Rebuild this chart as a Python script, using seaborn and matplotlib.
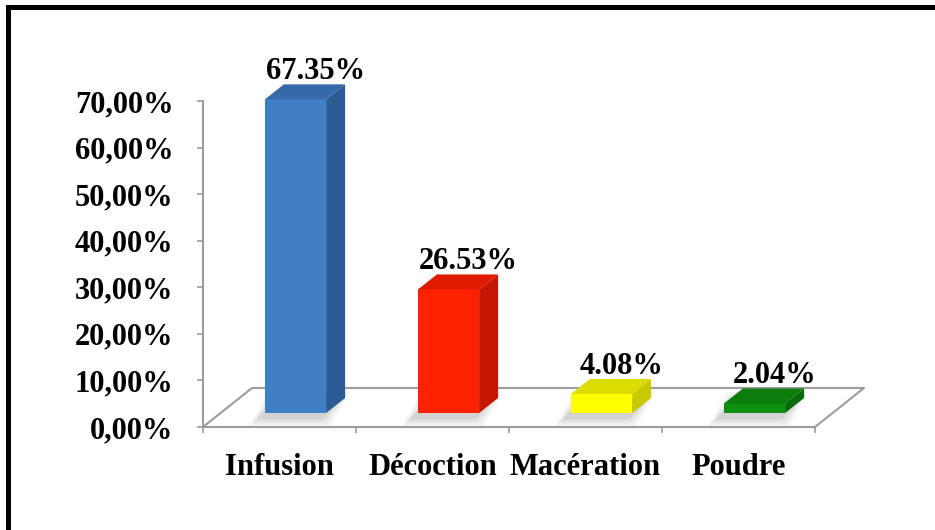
import numpy as np
import pandas as pd
import matplotlib
matplotlib.use("Agg")
import matplotlib.pyplot as plt
import matplotlib.transforms as mtransforms
from matplotlib.patches import Polygon, Rectangle
from matplotlib.lines import Line2D
import seaborn as sns

# Data
categories = ["Infusion", "Décoction", "Macération", "Poudre"]
values = [67.35, 26.53, 4.08, 2.04]
value_labels = ["67.35%", "26.53%", "4.08%", "2.04%"]
y_ticks = [0, 10, 20, 30, 40, 50, 60, 70]
y_tick_labels = ["0,00%", "10,00%", "20,00%", "30,00%",
                 "40,00%", "50,00%", "60,00%", "70,00%"]

# Face colours for the pseudo-3D bars
front_colors = ["#3f7fc6", "#ff2200", "#ffff00", "#0f8f0f"]
side_colors = ["#2b5c96", "#c41600", "#c9c900", "#0a6a0a"]
top_colors = ["#3569a8", "#e01c00", "#dcdc00", "#0c7c0c"]
axis_gray = "#9c9c9c"

sns.set_theme(style="white")
plt.rcParams["font.family"] = ["Liberation Serif", "DejaVu Serif"]
plt.rcParams["font.weight"] = "bold"

W, H = 935, 530
fig = plt.figure(figsize=(W / 100, H / 100), dpi=100)
ax = fig.add_axes([203 / W, (H - 427) / H, 612 / W, 326 / H])

df = pd.DataFrame({"Préparation": categories, "Pourcentage": values})
sns.barplot(data=df, x="Préparation", y="Pourcentage", hue="Préparation",
            palette=front_colors, width=0.4, saturation=1, legend=False,
            linewidth=0, ax=ax, zorder=4)

ax.set_xlim(-0.5, 3.5)
ax.set_ylim(0, 70)

# pixel size of one data unit
p0 = ax.transData.transform((0, 0))
p1 = ax.transData.transform((1, 1))
ppx, ppy = p1 - p0

# bars sit mid-depth on the floor: shift front faces back/up
bar_shift = mtransforms.offset_copy(ax.transData, fig=fig, x=16, y=14, units="dots")
bar_dx, bar_dy = 19 / ppx, 15 / ppy          # bar depth
floor_dx, floor_dy = 49 / ppx, 39 / ppy      # floor depth

# floor outline (left, back, right edges)
fx = [-0.5, -0.5 + floor_dx, 3.5 + floor_dx, 3.5]
fy = [0, floor_dy, floor_dy, 0]
ax.add_line(Line2D(fx, fy, color=axis_gray, lw=1.5, clip_on=False, zorder=1))

bars = sorted(ax.patches, key=lambda p: p.get_x())
for i, p in enumerate(bars):
    x0, w, h = p.get_x(), p.get_width(), p.get_height()
    p.set_transform(bar_shift)
    p.set_clip_on(False)
    # soft shadow under the bar footprint
    for k, a in enumerate([0.05, 0.06, 0.08, 0.1]):
        grow = (4 - k) * 2.5
        gx, gy = grow / ppx, grow / ppy
        sx, sy = -6 / ppx, -4 / ppy
        shadow = Polygon([(x0 - gx + sx, -gy + sy), (x0 + w + gx + sx, -gy + sy),
                          (x0 + w + bar_dx + gx + sx, bar_dy + gy + sy),
                          (x0 + bar_dx - gx + sx, bar_dy + gy + sy)],
                         closed=True, facecolor="#606060", edgecolor="none",
                         alpha=a, transform=bar_shift, clip_on=False, zorder=2)
        ax.add_patch(shadow)
    side = Polygon([(x0 + w, 0), (x0 + w, h), (x0 + w + bar_dx, h + bar_dy),
                    (x0 + w + bar_dx, bar_dy)], closed=True,
                   facecolor=side_colors[i], edgecolor="none",
                   transform=bar_shift, clip_on=False, zorder=3)
    top = Polygon([(x0, h), (x0 + w, h), (x0 + w + bar_dx, h + bar_dy),
                   (x0 + bar_dx, h + bar_dy)], closed=True,
                  facecolor=top_colors[i], edgecolor="none",
                  transform=bar_shift, clip_on=False, zorder=5)
    ax.add_patch(side)
    ax.add_patch(top)
    ax.annotate(value_labels[i], xy=(x0 + w / 2, h), xycoords="data",
                xytext=(36, 34), textcoords="offset pixels",
                ha="center", va="baseline", fontsize=22, fontweight="bold",
                color="black", annotation_clip=False, zorder=6)

# axes styling
for s in ["top", "right"]:
    ax.spines[s].set_visible(False)
for s in ["left", "bottom"]:
    ax.spines[s].set_color(axis_gray)
    ax.spines[s].set_linewidth(1.5)

ax.set_yticks(y_ticks)
ax.set_yticklabels(y_tick_labels)
ax.set_xticks(range(len(categories)))
ax.set_xticklabels(categories)
ax.set_xticks([-0.5, 0.5, 1.5, 2.5, 3.5], minor=True)
ax.tick_params(axis="y", left=True, direction="out", length=4.3, width=1.2,
               color=axis_gray, pad=17, labelsize=22)
ax.tick_params(axis="x", which="major", bottom=True, length=0, pad=19,
               labelsize=22)
ax.tick_params(axis="x", which="minor", bottom=True, direction="out",
               length=4.3, width=1.2, color=axis_gray)
for lbl in ax.get_xticklabels() + ax.get_yticklabels():
    lbl.set_fontweight("bold")
    lbl.set_color("black")
ax.set_xlabel("")
ax.set_ylabel("")
ax.grid(False)
ax.set_facecolor("none")
fig.patch.set_facecolor("white")

# black frame (top and left edges visible)
fig.add_artist(Rectangle((7.5 / W, -0.1), 1.2, (H - 7) / H + 0.1,
                         transform=fig.transFigure, fill=False, lw=3.6,
                         edgecolor="black", clip_on=False))

fig.savefig("out.png", dpi=100, facecolor="white")
